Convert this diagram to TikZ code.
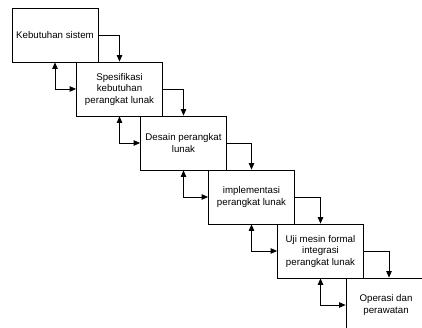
\documentclass[tikz,border=0pt]{standalone}
\usepackage{fontspec}
\setmainfont{Liberation Sans}
\usetikzlibrary{arrows.meta}
\begin{document}
\begin{tikzpicture}[x=1pt,y=-1pt,
  stage/.style={draw=black,line width=0.8pt,minimum width=86pt,minimum height=54pt,
    inner sep=0pt,align=center,font=\fontsize{9.7}{11.5}\selectfont},
  flow/.style={draw=black,line width=0.8pt,-{Triangle[length=6.5pt,width=5.5pt]}},
  back/.style={draw=black,line width=0.8pt,{Triangle[length=6.5pt,width=5.5pt]}-{Triangle[length=6.5pt,width=5.5pt]}}]
\useasboundingbox (0,0) rectangle (422,328);
\clip (0,0) rectangle (422,328);
\node[stage] (b1) at (55,35) {Kebutuhan sistem};
\node[stage] (b2) at (119.5,89) {Spesifikasi\\kebutuhan\\perangkat lunak};
\node[stage] (b3) at (183.5,143) {Desain perangkat\\lunak};
\node[stage] (b4) at (251.5,197) {implementasi\\perangkat lunak};
\node[stage] (b5) at (320.5,251) {Uji mesin formal\\integrasi\\perangkat lunak};
\node[stage,minimum width=80pt] (b6) at (386,305) {Operasi dan\\perawatan};
\draw[flow] (b1.east) -| (b2.north);
\draw[flow] (b2.east) -| (b3.north);
\draw[flow] (b3.east) -| (b4.north);
\draw[flow] (b4.east) -| (b5.north);
\draw[flow] (b5.east) -| ([xshift=3pt]b6.north);
\draw[back] (b1.south) |- (b2.west);
\draw[back] (b2.south) |- (b3.west);
\draw[back] (b3.south) |- (b4.west);
\draw[back] (b4.south) |- (b5.west);
\draw[back] (b5.south) |- (b6.west);
\end{tikzpicture}
\end{document}
